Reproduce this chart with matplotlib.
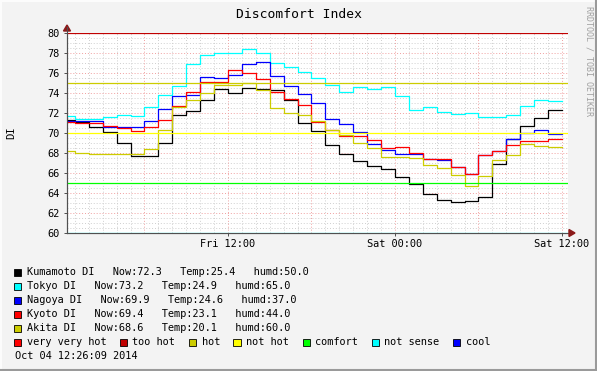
import matplotlib
matplotlib.use("Agg")
import matplotlib.pyplot as plt
from matplotlib.patches import Rectangle, Polygon
from matplotlib.lines import Line2D
import numpy as np

# ---------------- data ----------------
# hourly values, index h = segment starting at Fri h:00 (hours since Fri 00:00)
hours = list(range(0, 36))
kumamoto = [71.3, 71.1, 70.6, 70.1, 69.0, 67.65, 67.65, 69.0, 71.8, 72.2, 73.3, 74.4,
            74.0, 74.5, 74.35, 74.3, 73.3, 71.0, 70.2, 68.8, 67.9, 67.2, 66.7, 66.4,
            65.6, 64.9, 63.9, 63.3, 63.1, 63.2, 63.6, 66.9, 69.4, 70.7, 71.5, 72.3]
tokyo = [71.7, 71.43, 71.43, 71.6, 71.77, 71.7, 72.6, 73.8, 74.7, 76.9, 77.8, 78.0,
         78.0, 78.4, 77.95, 77.0, 76.6, 76.1, 75.45, 74.75, 74.13, 74.6, 74.43, 74.57,
         73.7, 72.25, 72.6, 72.1, 71.93, 72.0, 71.6, 71.6, 71.8, 72.7, 73.27, 73.2]
nagoya = [71.15, 71.15, 71.15, 70.6, 70.6, 70.6, 71.2, 72.4, 73.7, 73.83, 75.6, 75.5,
          75.8, 76.85, 77.05, 75.65, 74.67, 73.9, 73.0, 71.43, 70.85, 70.13, 68.85, 68.33,
          67.9, 67.9, 67.35, 67.25, 66.6, 65.87, 67.83, 68.23, 69.42, 70.0, 70.3, 69.9]
kyoto = [71.1, 71.0, 71.0, 70.7, 70.5, 70.2, 70.6, 71.3, 72.7, 74.1, 75.1, 75.1,
         76.3, 76.0, 75.4, 74.1, 73.35, 72.75, 71.13, 70.33, 69.73, 69.73, 69.27, 68.5,
         68.6, 68.0, 67.4, 67.4, 66.6, 65.9, 67.83, 68.23, 68.8, 69.23, 69.23, 69.4]
akita = [68.2, 68.0, 67.9, 67.9, 67.9, 67.9, 68.4, 70.3, 72.6, 73.25, 74.0, 74.8,
         74.8, 74.95, 74.3, 72.5, 72.0, 71.8, 71.2, 70.3, 69.8, 69.0, 68.45, 67.55,
         67.55, 67.45, 66.8, 66.5, 65.8, 64.7, 65.7, 67.3, 67.8, 68.9, 68.7, 68.6]

series_names = ["Kumamoto DI", "Tokyo DI", "Nagoya DI", "Kyoto DI", "Akita DI"]
series_values = [kumamoto, tokyo, nagoya, kyoto, akita]
series_colors = ["#000000", "#00FFFF", "#0000FF", "#FF0000", "#CCCC00"]
now_vals = ["72.3", "73.2", "69.9", "69.4", "68.6"]
temp_vals = ["25.4", "24.9", "24.6", "23.1", "20.1"]
humd_vals = ["50.0", "65.0", "37.0", "44.0", "60.0"]

thr_names = ["very very hot", "too hot", "hot", "not hot", "comfort", "not sense", "cool"]
thr_values = [85, 80, 75, 70, 65, 60, 55]
thr_colors = ["#FF0000", "#C00000", "#CCCC00", "#FFFF00", "#00FF00", "#00FFFF", "#0000FF"]

x_tick_pos = [12, 24, 36]
x_tick_labels = ["Fri 12:00", "Sat 00:00", "Sat 12:00"]
y_ticks = list(range(60, 81, 2))
t_start, t_end = 0.435, 36.435
title = "Discomfort Index"
stamp = "Oct 04 12:26:09 2014"

# ---------------- figure ----------------
W, H = 597, 371
fig = plt.figure(figsize=(W / 100, H / 100), dpi=100)
fig.patch.set_facecolor("#F3F3F3")
MONO = "DejaVu Sans Mono"
FS = 7.35

def fx(px):
    return px / W

def fy(py):
    return 1 - py / H

L, R, T, B = 67, 568, 33, 233
ax = fig.add_axes([fx(L), fy(B), fx(R) - fx(L), fy(T) - fy(B)])
ax.set_facecolor("white")
ax.set_xlim(t_start, t_end)
ax.set_ylim(60, 80)

# grid
for v in np.arange(60, 80.01, 0.5):
    if abs(v % 2) < 1e-9:
        ax.axhline(v, color="#F0A0A0", lw=0.7, ls=(0, (1, 2)), zorder=1)
    else:
        ax.axhline(v, color="#CFCFCF", lw=0.7, ls=(0, (1, 2)), zorder=0.5)
for hh in range(1, 37):
    if hh % 6 == 0:
        ax.axvline(hh, color="#F0A0A0", lw=0.7, ls=(0, (1, 2)), zorder=1)
    else:
        ax.axvline(hh, color="#CFCFCF", lw=0.7, ls=(0, (1, 2)), zorder=0.5)

# data lines
for vals, col in zip(series_values, series_colors):
    xs = hours + [hours[-1] + 1]
    ys = vals + [vals[-1]]
    ax.step(xs, ys, where="post", color=col, lw=0.9, zorder=3)

# thresholds
for v, col in zip(thr_values, thr_colors):
    ax.axhline(v, color=col, lw=0.9, zorder=4)

for s in ["top", "right"]:
    ax.spines[s].set_visible(False)
ax.spines["left"].set_color("#505050")
ax.spines["bottom"].set_color("#505050")
ax.spines["left"].set_linewidth(0.8)
ax.spines["bottom"].set_linewidth(0.8)

ax.set_yticks(y_ticks)
ax.set_yticklabels([str(v) for v in y_ticks], fontsize=FS, family=MONO)
ax.set_xticks(x_tick_pos)
ax.set_xticklabels(x_tick_labels, fontsize=FS, family=MONO)
ax.tick_params(axis="y", length=2.5, width=0.7, color="#505050", pad=2.5)
ax.tick_params(axis="x", length=2, width=0.7, color="#505050", pad=2.0)

# axis extensions and arrows
fig.add_artist(Line2D([fx(L), fx(L)], [fy(B), fy(27)], color="#505050", lw=0.8))
fig.add_artist(Line2D([fx(L), fx(571)], [fy(B), fy(B)], color="#505050", lw=0.8, zorder=0))
fig.add_artist(Polygon([[fx(L), fy(25)], [fx(L - 3.5), fy(31)], [fx(L + 3.5), fy(31)]],
                       closed=True, color="#8B1A1A", transform=fig.transFigure))
fig.add_artist(Polygon([[fx(575), fy(B)], [fx(569), fy(B - 3.5)], [fx(569), fy(B + 3.5)]],
                       closed=True, color="#8B1A1A", transform=fig.transFigure))

# title and labels
fig.text(fx(298.5), fy(14), title, ha="center", va="center", fontsize=9.4, family=MONO)
fig.text(fx(11), fy(132.5), "DI", ha="center", va="center", rotation=90, fontsize=7.6, family=MONO)
fig.text(fx(588.5), fy(61), "RRDTOOL / TOBI OETIKER", ha="center", va="center", rotation=270,
         fontsize=6.0, family=MONO, color="#A0A0A0")

# legend
row_y0, row_dy = 272.3, 14.0
def square(x, y, col):
    fig.add_artist(Rectangle((fx(x), fy(y + 3.7)), fx(7.2), 7.4 / H, facecolor=col,
                             edgecolor="black", lw=0.6, transform=fig.transFigure))

for i, (nm, col) in enumerate(zip(series_names, series_colors)):
    y = row_y0 + i * row_dy
    square(14, y, col)
    txt = f"{nm}   Now:{now_vals[i]}   Temp:{temp_vals[i]}   humd:{humd_vals[i]}"
    fig.text(fx(26.7), fy(y), txt, ha="left", va="center", fontsize=FS, family=MONO)

thr_text_x = [26.7, 132.3, 201.7, 246, 315.3, 384.3, 466]
y = row_y0 + 5 * row_dy
for nm, col, tx in zip(thr_names, thr_colors, thr_text_x):
    square(tx - 12.7, y, col)
    fig.text(fx(tx), fy(y), nm, ha="left", va="center", fontsize=FS, family=MONO)

fig.text(fx(15), fy(row_y0 + 6 * row_dy), stamp, ha="left", va="center", fontsize=FS, family=MONO)

# outer border
fig.add_artist(Line2D([0, 1], [fy(0.5), fy(0.5)], color="#FCFCFC", lw=1.5))
fig.add_artist(Line2D([fx(0.5), fx(0.5)], [0, 1], color="#FCFCFC", lw=1.5))
fig.add_artist(Line2D([0, 1], [fy(H - 1), fy(H - 1)], color="#9A9A9A", lw=1.5))
fig.add_artist(Line2D([fx(W - 1), fx(W - 1)], [0, 1], color="#9A9A9A", lw=1.5))

fig.savefig("out.png", dpi=100, facecolor=fig.get_facecolor())
